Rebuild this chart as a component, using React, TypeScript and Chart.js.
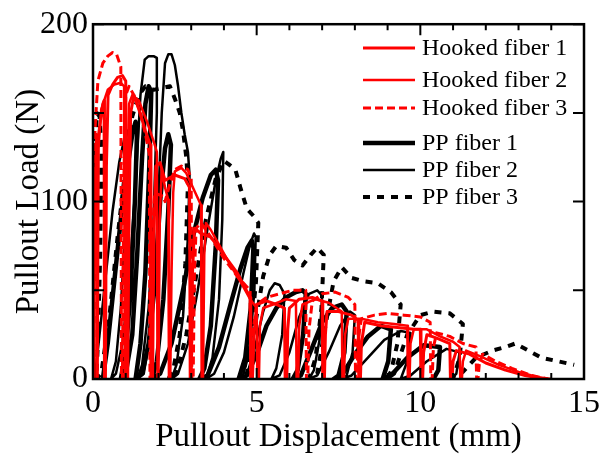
import React, { useEffect, useRef } from 'react';
import { Chart, registerables } from 'chart.js';

Chart.register(...registerables);

// ---------------- data (displacement mm, load N) ----------------
const seriesNames = ['Hooked fiber 1', 'Hooked fiber 2', 'Hooked fiber 3', 'PP fiber 1', 'PP fiber 2', 'PP fiber 3'];

const xLabelled = [0, 5, 10, 15];
const yLabelled = [0, 100, 200];

const hooked1 = [
  [0, 0], [0.03, 50], [0.08, 100], [0.15, 135], [0.3, 155], [0.34, 157],
  [0.35, 0], [0.38, 0], [0.41, 120], [0.46, 160], [0.6, 166], [0.75, 170], [0.9, 171], [1.0, 168],
  [1.02, 100], [1.03, 0], [1.06, 0], [1.1, 90], [1.15, 150], [1.25, 160], [1.4, 152], [1.6, 140], [1.75, 132],
  [1.77, 0], [1.82, 0], [1.86, 80], [1.92, 120], [2.05, 122], [2.2, 112], [2.5, 115], [2.8, 113], [2.95, 108],
  [2.97, 0], [3.0, 0], [3.04, 60], [3.1, 85], [3.3, 82], [3.6, 80], [4.0, 70], [4.4, 60], [4.8, 46],
  [4.82, 0], [4.87, 0], [4.92, 25], [5.0, 42], [5.3, 44], [5.6, 42], [5.85, 40],
  [5.87, 0], [5.92, 0], [5.95, 28], [6.0, 40], [6.3, 45], [6.7, 46], [7.0, 44],
  [7.02, 0], [7.07, 0], [7.1, 25], [7.15, 38], [7.5, 38], [7.9, 36], [8.1, 33],
  [8.12, 0], [8.17, 0], [8.2, 20], [8.3, 32], [8.8, 30], [9.3, 29], [9.8, 28], [10.0, 28],
  [10.02, 0], [10.07, 0], [10.1, 15], [10.2, 25], [10.5, 23], [10.9, 20],
  [10.92, 0], [10.97, 0], [11.0, 10], [11.1, 16], [11.5, 14], [12.0, 9], [12.6, 5], [13.2, 2], [13.8, 0],
];

const hooked2 = [
  [0, 0], [0.02, 60], [0.06, 110], [0.1, 138], [0.11, 0], [0.14, 0], [0.17, 130], [0.25, 152],
  [0.45, 163], [0.65, 166], [0.85, 167], [0.95, 165],
  [0.97, 0], [1.0, 0], [1.04, 100], [1.1, 155], [1.2, 160], [1.4, 157], [1.65, 145], [1.87, 133], [1.95, 128],
  [1.97, 0], [2.0, 0], [2.04, 90], [2.1, 118], [2.2, 108], [2.3, 101],
  [2.32, 0], [2.36, 0], [2.4, 60], [2.45, 105], [2.5, 117], [2.7, 119], [2.85, 116], [3.0, 110], [3.15, 104], [3.3, 98],
  [3.32, 0], [3.36, 0], [3.4, 70], [3.45, 88], [3.6, 84], [3.9, 74], [4.2, 64], [4.5, 55], [4.8, 45], [5.0, 40],
  [5.02, 0], [5.07, 0], [5.1, 30], [5.2, 40], [5.5, 42], [5.9, 45], [6.2, 44],
  [6.22, 0], [6.27, 0], [6.3, 30], [6.4, 42], [6.8, 45], [7.2, 43], [7.6, 38],
  [7.62, 0], [7.67, 0], [7.7, 25], [7.8, 34], [8.2, 34], [8.7, 32], [9.2, 31], [9.6, 30],
  [9.62, 0], [9.67, 0], [9.7, 20], [9.8, 28], [10.2, 28], [10.6, 24], [11.0, 21], [11.2, 18],
  [11.22, 0], [11.27, 0], [11.3, 10], [11.4, 16], [11.8, 13], [12.4, 8], [13.0, 4], [13.6, 1], [14.0, 0],
];

const hooked3 = [
  [0, 0], [0.02, 80], [0.06, 140], [0.15, 168], [0.3, 178], [0.45, 182], [0.6, 184], [0.72, 183], [0.85, 176],
  [0.87, 0], [0.9, 0], [0.94, 110], [1.0, 160], [1.1, 165], [1.25, 160], [1.45, 150], [1.6, 138], [1.72, 127],
  [1.74, 0], [1.78, 0], [1.82, 80], [1.88, 105], [2.0, 104], [2.15, 103],
  [2.2, 100], [2.35, 110], [2.5, 118], [2.7, 120], [2.9, 118], [3.0, 113],
  [3.02, 0], [3.06, 0], [3.1, 60], [3.15, 85], [3.3, 88], [3.6, 80], [4.0, 68], [4.4, 58], [4.8, 50],
  [4.82, 0], [4.86, 0], [4.9, 28], [5.0, 42], [5.3, 46], [5.7, 48], [6.1, 50], [6.5, 50],
  [6.52, 0], [6.56, 0], [6.6, 28], [6.7, 44], [7.0, 48], [7.4, 49], [7.8, 46], [8.0, 42],
  [8.02, 0], [8.06, 0], [8.1, 22], [8.2, 34], [8.6, 36], [9.0, 37], [9.5, 36], [10.0, 35], [10.3, 32],
  [10.32, 0], [10.36, 0], [10.4, 18], [10.5, 26], [10.9, 24], [11.3, 20], [11.7, 18],
  [11.72, 0], [11.76, 0], [11.8, 8], [11.9, 14], [12.3, 10], [12.8, 6], [13.4, 2], [13.9, 0],
];

const pp1 = [
  [0.3, 0], [0.45, 20], [0.65, 55], [0.85, 90], [1.0, 115], [1.1, 125], [1.2, 138], [1.3, 145], [1.35, 142],
  [1.28, 100], [1.15, 50], [1.0, 15], [0.85, 0],
  [1.0, 3], [1.2, 25], [1.35, 70], [1.5, 125], [1.6, 155], [1.7, 165], [1.78, 162],
  [1.72, 120], [1.6, 60], [1.45, 20], [1.3, 0],
  [1.5, 3], [1.7, 20], [1.9, 55], [2.05, 100], [2.2, 130], [2.3, 138], [2.38, 132],
  [2.3, 95], [2.15, 45], [1.95, 10], [1.8, 0],
  [2.05, 3], [2.4, 20], [2.75, 50], [3.05, 80], [3.35, 102], [3.6, 115], [3.75, 118], [3.82, 112],
  [3.75, 75], [3.6, 30], [3.4, 6], [3.25, 0],
  [3.5, 2], [3.85, 18], [4.2, 42], [4.5, 62], [4.72, 74], [4.85, 78], [4.9, 74],
  [4.82, 40], [4.65, 12], [4.45, 0],
  [4.7, 2], [5.0, 14], [5.3, 30], [5.6, 40], [5.9, 46], [6.2, 49], [6.4, 50], [6.5, 48],
  [6.42, 25], [6.25, 5], [6.1, 0],
  [6.35, 2], [6.7, 18], [7.0, 32], [7.3, 40], [7.6, 42], [7.75, 38],
  [7.68, 15], [7.5, 2], [7.35, 0],
  [7.6, 2], [8.0, 14], [8.4, 24], [8.8, 30], [9.1, 28],
  [9.02, 10], [8.85, 0],
  [9.1, 2], [9.6, 12], [10.1, 19], [10.6, 18], [10.55, 5], [10.4, 0],
];

const pp2 = [
  [0.05, 0], [0.2, 25], [0.4, 60], [0.6, 95], [0.8, 122], [0.95, 135], [1.05, 140], [1.1, 136],
  [1.0, 90], [0.85, 40], [0.7, 10], [0.55, 0],
  [0.7, 3], [0.9, 20], [1.1, 55], [1.3, 110], [1.45, 160], [1.58, 180], [1.7, 182], [1.85, 182], [1.95, 181],
  [1.95, 150], [1.85, 90], [1.7, 40], [1.5, 8], [1.35, 0],
  [1.55, 3], [1.75, 25], [1.95, 80], [2.1, 150], [2.2, 178], [2.3, 183], [2.4, 183], [2.5, 177], [2.6, 165],
  [2.7, 150], [2.8, 138], [2.9, 128], [2.95, 115],
  [2.9, 80], [2.75, 35], [2.55, 8], [2.4, 0],
  [2.6, 3], [2.9, 20], [3.2, 50], [3.5, 85], [3.75, 112], [3.9, 124], [3.98, 128],
  [3.95, 90], [3.85, 45], [3.65, 12], [3.45, 0],
  [3.7, 3], [4.0, 15], [4.3, 35], [4.6, 60], [4.8, 76], [4.92, 82], [4.97, 80],
  [4.93, 50], [4.8, 20], [4.6, 3], [4.45, 0],
  [4.7, 2], [4.95, 18], [5.2, 38], [5.4, 50], [5.55, 54], [5.7, 53], [5.85, 48],
  [5.78, 25], [5.6, 6], [5.45, 0],
  [5.7, 2], [6.0, 15], [6.3, 35], [6.6, 48], [6.85, 50], [7.0, 47],
  [6.92, 22], [6.75, 5], [6.6, 0],
  [6.85, 2], [7.2, 15], [7.55, 30], [7.85, 38], [8.0, 36],
  [7.93, 15], [7.75, 2], [7.6, 0],
  [7.9, 2], [8.4, 12], [8.9, 22], [9.4, 27], [9.7, 26],
  [9.6, 10], [9.4, 0],
  [9.7, 2], [10.2, 10], [10.8, 17], [11.2, 15], [11.1, 3], [10.9, 0],
];

const pp3 = [
  [0, 0], [0.03, 70], [0.07, 130], [0.12, 150], [0.2, 148], [0.26, 130], [0.22, 70], [0.15, 20], [0.1, 0],
  [0.25, 3], [0.5, 35], [0.75, 80], [1.0, 120], [1.2, 148], [1.4, 160], [1.6, 165], [1.85, 163], [2.1, 164],
  [2.35, 165], [2.5, 158], [2.65, 150], [2.75, 140], [2.85, 125], [2.9, 110],
  [2.82, 65], [2.65, 25], [2.45, 5], [2.3, 0],
  [2.55, 3], [2.85, 25], [3.15, 58], [3.45, 90], [3.75, 113], [4.0, 123], [4.15, 121], [4.35, 118], [4.5, 108],
  [4.7, 96], [4.9, 92], [5.05, 88],
  [4.98, 55], [4.8, 20], [4.6, 4], [4.45, 0],
  [4.7, 3], [4.95, 30], [5.2, 58], [5.4, 70], [5.6, 75], [5.9, 74], [6.15, 67], [6.4, 64], [6.65, 70],
  [6.85, 74], [7.05, 70],
  [6.98, 40], [6.8, 12], [6.6, 0],
  [6.85, 3], [7.1, 30], [7.35, 55], [7.6, 63], [7.9, 57], [8.3, 55], [8.7, 54], [9.1, 49], [9.4, 42],
  [9.3, 20], [9.1, 4], [8.95, 0],
  [9.2, 3], [9.6, 25], [10.0, 36], [10.4, 38], [10.9, 37], [11.3, 31],
  [11.2, 12], [11.0, 0],
  [11.3, 4], [11.7, 12], [12.2, 16], [12.6, 18], [12.9, 20], [13.3, 16], [13.7, 12], [14.2, 10], [14.7, 8],
];

const seriesData = [hooked1, hooked2, hooked3, pp1, pp2, pp3];

// ---------------- styles ----------------
const RED = '#ff0000';
const BLACK = '#000000';
const seriesStyles = [
  { color: RED, width: 3, dash: [] as number[] },
  { color: RED, width: 2.5, dash: [] as number[] },
  { color: RED, width: 3, dash: [8, 4] },
  { color: BLACK, width: 4.5, dash: [] as number[] },
  { color: BLACK, width: 2.5, dash: [] as number[] },
  { color: BLACK, width: 4, dash: [7, 7] },
];

const FONT = "'Liberation Serif', 'Times New Roman', serif";

const framePlugin = {
  id: 'frameTicks',
  afterDatasetsDraw(chart: any) {
    const { ctx, chartArea } = chart;
    const { left, right, top, bottom } = chartArea;
    const xs = chart.scales.x;
    const ys = chart.scales.y;
    ctx.save();
    ctx.strokeStyle = '#000';
    ctx.lineWidth = 2.5;
    ctx.setLineDash([]);
    ctx.strokeRect(left, top, right - left, bottom - top);
    ctx.lineWidth = 2;
    ctx.beginPath();
    xs.ticks.forEach((t: any) => {
      const px = xs.getPixelForValue(t.value);
      const len = t.value % 5 === 0 ? 11 : 6;
      ctx.moveTo(px, bottom);
      ctx.lineTo(px, bottom - len);
      ctx.moveTo(px, top);
      ctx.lineTo(px, top + len);
    });
    ys.ticks.forEach((t: any) => {
      const py = ys.getPixelForValue(t.value);
      const len = 11;
      ctx.moveTo(left, py);
      ctx.lineTo(left + len, py);
      ctx.moveTo(right, py);
      ctx.lineTo(right - len, py);
    });
    ctx.stroke();
    ctx.restore();
  },
};

const legendPlugin = {
  id: 'innerLegend',
  afterDraw(chart: any) {
    const { ctx } = chart;
    const rows = [48, 80, 108, 143, 170, 197];
    ctx.save();
    seriesNames.forEach((name, i) => {
      const st = seriesStyles[i];
      const y = rows[i];
      ctx.strokeStyle = st.color;
      ctx.lineWidth = st.width;
      ctx.setLineDash(st.dash);
      ctx.lineCap = 'butt';
      ctx.beginPath();
      ctx.moveTo(363, y);
      ctx.lineTo(415, y);
      ctx.stroke();
      ctx.setLineDash([]);
      ctx.fillStyle = '#000';
      ctx.font = `24px ${FONT}`;
      ctx.textAlign = 'left';
      ctx.textBaseline = 'middle';
      ctx.fillText(name, 422, y + 1);
    });
    ctx.restore();
  },
};

export default function App() {
  const ref = useRef<HTMLCanvasElement | null>(null);

  useEffect(() => {
    if (!ref.current) return;
    const datasets = seriesData.map((arr, i) => ({
      label: seriesNames[i],
      data: arr.map(([x, y]) => ({ x, y })),
      borderColor: seriesStyles[i].color,
      backgroundColor: seriesStyles[i].color,
      borderWidth: seriesStyles[i].width,
      borderDash: seriesStyles[i].dash,
      borderJoinStyle: 'round' as const,
      borderCapStyle: 'butt' as const,
      showLine: true,
      pointRadius: 0,
      tension: 0,
      fill: false,
    }));

    const chart = new Chart(ref.current, {
      type: 'scatter',
      data: { datasets },
      options: {
        animation: false,
        responsive: false,
        devicePixelRatio: 1,
        layout: { padding: { top: 21, right: 30, left: 0, bottom: 0 } },
        plugins: { legend: { display: false }, tooltip: { enabled: false } },
        scales: {
          x: {
            type: 'linear',
            min: 0,
            max: 15,
            grid: { display: false, drawTicks: false },
            border: { display: false },
            afterFit: (s: any) => { s.height = 80; },
            ticks: {
              stepSize: 1,
              padding: 5,
              color: '#000',
              font: { family: FONT, size: 32 },
              maxRotation: 0,
              autoSkip: false,
              callback: (v: any) => (xLabelled.includes(Number(v)) ? String(v) : ''),
            },
            title: {
              display: true,
              text: 'Pullout Displacement (mm)',
              color: '#000',
              font: { family: FONT, size: 33 },
              padding: { top: 0, bottom: 2 },
            },
          },
          y: {
            type: 'linear',
            min: 0,
            max: 200,
            grid: { display: false, drawTicks: false },
            border: { display: false },
            afterFit: (s: any) => { s.width = 93; },
            ticks: {
              stepSize: 50,
              padding: 5,
              color: '#000',
              font: { family: FONT, size: 32 },
              autoSkip: false,
              callback: (v: any) => (yLabelled.includes(Number(v)) ? String(v) : ''),
            },
            title: {
              display: true,
              text: 'Pullout Load (N)',
              color: '#000',
              font: { family: FONT, size: 33 },
              padding: { top: 10, bottom: 0 },
            },
          },
        },
      },
      plugins: [framePlugin, legendPlugin],
    });
    return () => chart.destroy();
  }, []);

  return (
    <div style={{ position: 'absolute', left: 0, top: 0, width: 614, height: 459, background: '#fff' }}>
      <canvas ref={ref} width={614} height={459} style={{ display: 'block', width: 614, height: 459 }} />
    </div>
  );
}
